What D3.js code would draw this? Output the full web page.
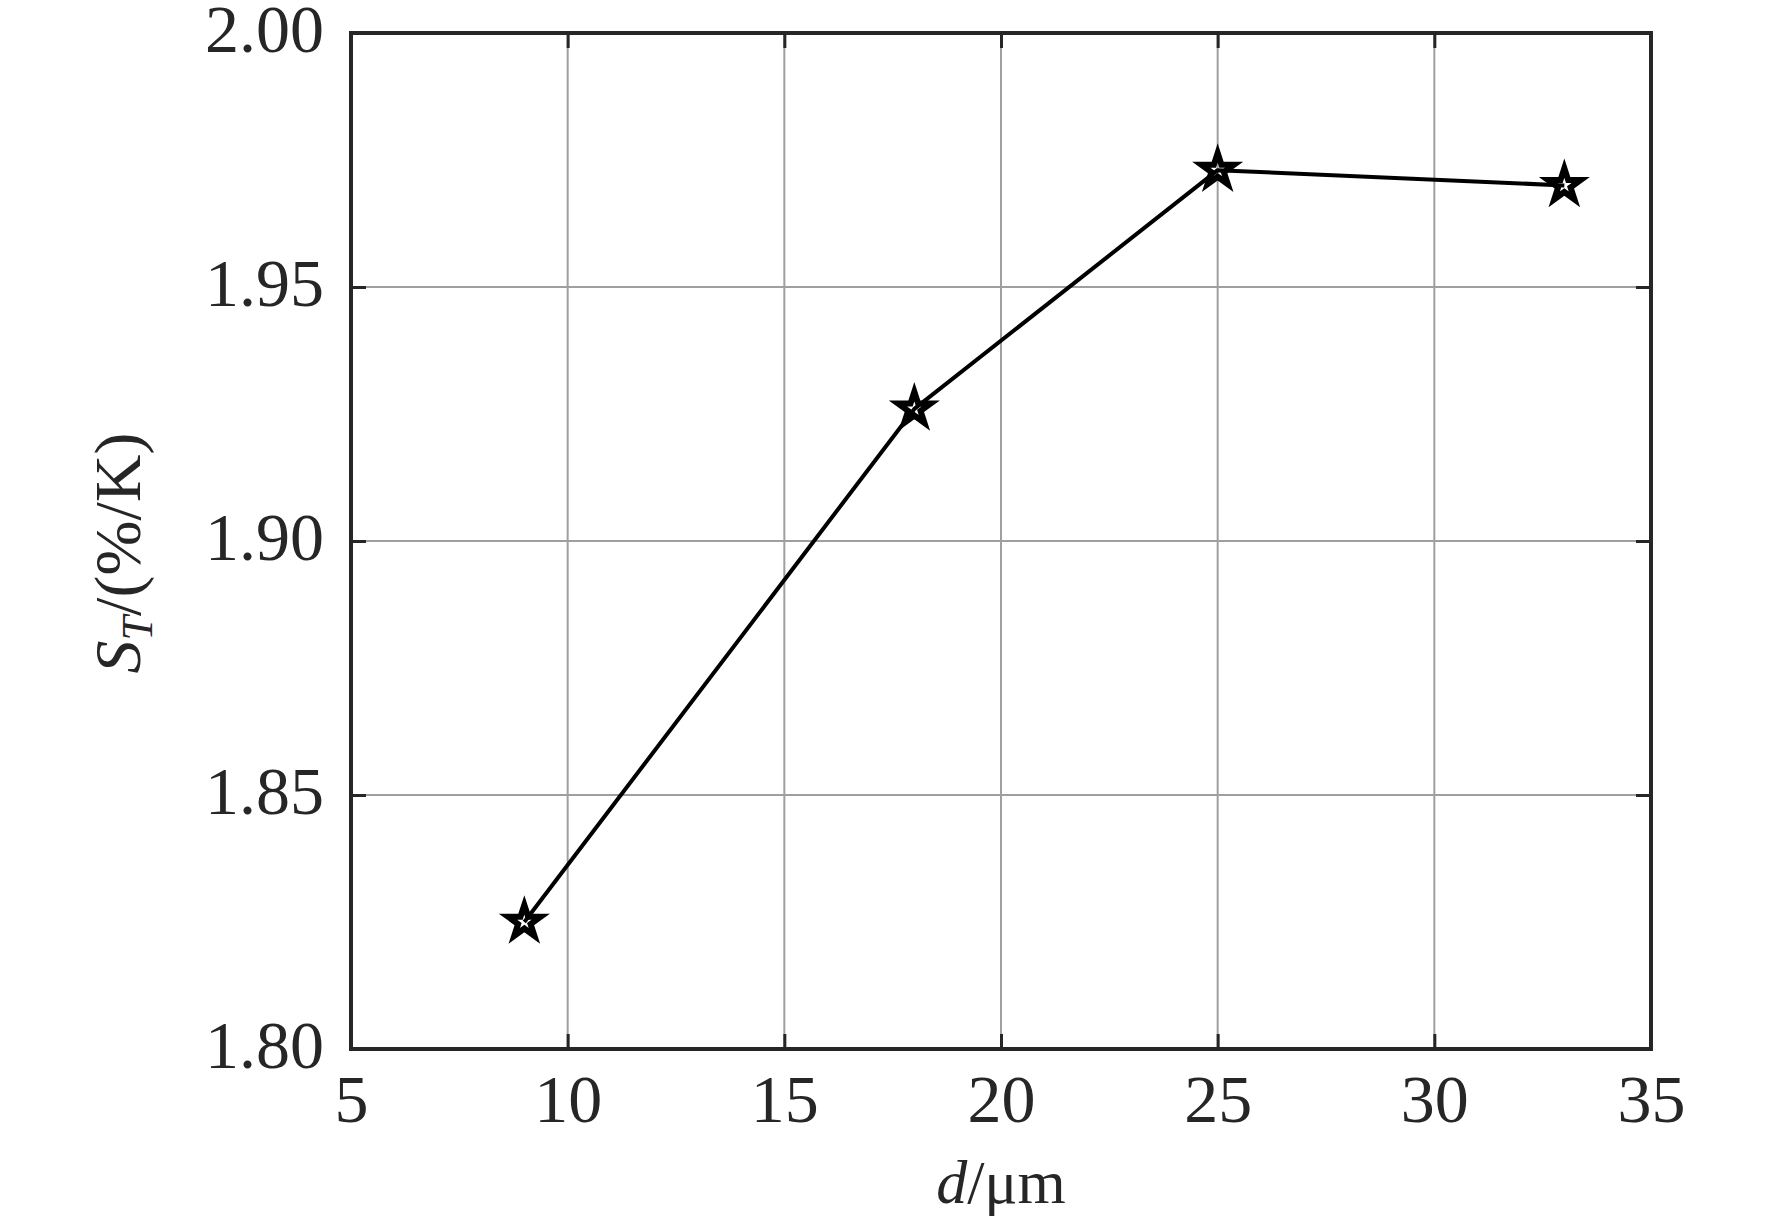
<!DOCTYPE html>
<html>
<head>
<meta charset="utf-8">
<title>S_T vs d</title>
<script src="https://d3js.org/d3.v7.min.js"></script>
<style>
  body { margin: 0; background: #fff; }
  svg { display: block; }
  .tick text { font-family: "Liberation Serif", "Times New Roman", serif; font-size: 68px; fill: #262626; }
  .axis .tick line { stroke: #262626; stroke-width: 3; }
  .axis .domain { display: none; }
  .grid line { stroke: #9f9f9f; stroke-width: 2; }
  .label { font-family: "Liberation Serif", "Times New Roman", serif; fill: #262626; }
</style>
</head>
<body>
<script>
// thickness d (um) vs temperature sensitivity S_T (%/K)
const thickness = [9, 18, 25, 33];
const sensitivity = [1.825, 1.926, 1.973, 1.970];
const xTicks = [5, 10, 15, 20, 25, 30, 35];
const yTicks = [1.80, 1.85, 1.90, 1.95, 2.00];

const width = 1772, height = 1223;
const margin = {top: 33, right: 121, bottom: 174, left: 351};
const innerWidth = width - margin.left - margin.right,
  innerHeight = height - margin.top - margin.bottom;

const svg = d3.select('body').append('svg')
  .attr('width', width)
  .attr('height', height);
const g = svg.append('g')
  .attr('transform', `translate(${margin.left},${margin.top})`);

const x = d3.scaleLinear().domain([5, 35]).range([0, innerWidth]);
const y = d3.scaleLinear().domain([1.8, 2.0]).range([innerHeight, 0]);

// grid
g.append('g').attr('class', 'grid')
  .selectAll('line')
  .data(xTicks.slice(1, -1))
  .enter().append('line')
  .attr('x1', d => x(d)).attr('x2', d => x(d))
  .attr('y1', 0).attr('y2', innerHeight);

g.append('g').attr('class', 'grid')
  .selectAll('line')
  .data(yTicks.slice(1, -1))
  .enter().append('line')
  .attr('y1', d => y(d)).attr('y2', d => y(d))
  .attr('x1', 0).attr('x2', innerWidth);

// axes, ticks pointing inward
g.append('g')
  .attr('class', 'axis')
  .attr('transform', `translate(0,${innerHeight})`)
  .call(d3.axisBottom(x).tickValues(xTicks).tickSizeInner(-15).tickSizeOuter(0).tickPadding(25));

g.append('g')
  .attr('class', 'axis')
  .call(d3.axisTop(x).tickValues(xTicks).tickSizeInner(-15).tickSizeOuter(0))
  .selectAll('.tick text').remove();

g.append('g')
  .attr('class', 'axis axis-left')
  .call(d3.axisLeft(y).tickValues(yTicks).tickSizeInner(-15).tickSizeOuter(0).tickPadding(27).tickFormat(d3.format('.2f')));

g.selectAll('.axis-left .tick text').attr('dy', '0.27em');

g.append('g')
  .attr('class', 'axis')
  .attr('transform', `translate(${innerWidth},0)`)
  .call(d3.axisRight(y).tickValues(yTicks).tickSizeInner(-15).tickSizeOuter(0))
  .selectAll('.tick text').remove();

// frame
g.append('rect')
  .attr('width', innerWidth)
  .attr('height', innerHeight)
  .attr('fill', 'none')
  .attr('stroke', '#262626')
  .attr('stroke-width', 4);

// data
const pts = thickness.map((d, i) => [d, sensitivity[i]]);

g.append('path')
  .datum(pts)
  .attr('fill', 'none')
  .attr('stroke', '#000')
  .attr('stroke-width', 4)
  .attr('stroke-linejoin', 'round')
  .attr('d', d3.line().x(d => x(d[0])).y(d => y(d[1])));

const star = d3.symbol().type(d3.symbolStar).size(330);

g.selectAll('.marker')
  .data(pts)
  .enter().append('path')
  .attr('class', 'marker')
  .attr('transform', d => `translate(${x(d[0])},${y(d[1])})`)
  .attr('d', star)
  .attr('fill', 'none')
  .attr('stroke', '#000')
  .attr('stroke-width', 6)
  .attr('stroke-linejoin', 'miter');

// axis labels
const xl = svg.append('text')
  .attr('class', 'label')
  .attr('x', margin.left + innerWidth / 2)
  .attr('y', 1203)
  .attr('text-anchor', 'middle')
  .attr('font-size', 62);
xl.append('tspan').attr('font-style', 'italic').text('d');
xl.append('tspan').text('/μm');

const yl = svg.append('text')
  .attr('class', 'label')
  .attr('transform', 'translate(140,553) rotate(-90)')
  .attr('text-anchor', 'middle')
  .attr('font-size', 66);
yl.append('tspan').attr('font-style', 'italic').text('S');
yl.append('tspan').attr('font-style', 'italic').attr('font-size', 44).attr('dy', 12).text('T');
yl.append('tspan').attr('dy', -12).text('/(%/K)');
</script>
</body>
</html>
